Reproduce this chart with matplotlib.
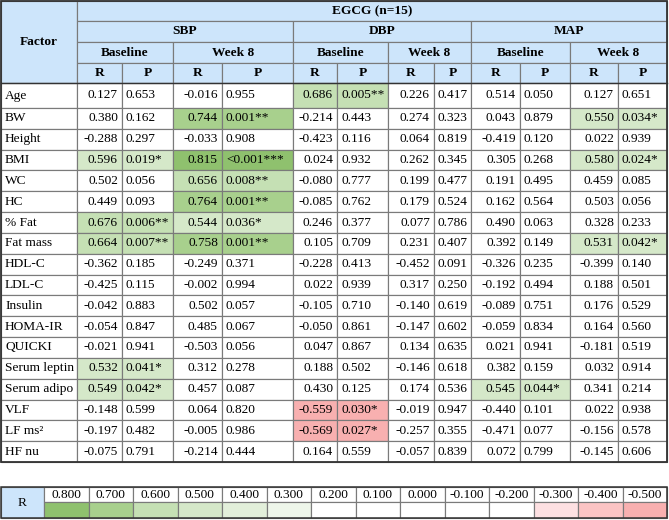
import matplotlib
matplotlib.use("Agg")
import matplotlib.pyplot as plt
from matplotlib.patches import Rectangle

plt.rcParams['font.family'] = ['Liberation Serif', 'DejaVu Serif']

factors = ["Age", "BW", "Height", "BMI", "WC", "HC", "% Fat", "Fat mass", "HDL-C", "LDL-C",
           "Insulin", "HOMA-IR", "QUICKI", "Serum leptin", "Serum adipo", "VLF", "LF ms²", "HF nu"]

sbp_base_r = [0.127, 0.380, -0.288, 0.596, 0.502, 0.449, 0.676, 0.664, -0.362, -0.425,
              -0.042, -0.054, -0.021, 0.532, 0.549, -0.148, -0.197, -0.075]
sbp_base_p = ["0.653", "0.162", "0.297", "0.019*", "0.056", "0.093", "0.006**", "0.007**", "0.185", "0.115",
              "0.883", "0.847", "0.941", "0.041*", "0.042*", "0.599", "0.482", "0.791"]
sbp_w8_r = [-0.016, 0.744, -0.033, 0.815, 0.656, 0.764, 0.544, 0.758, -0.249, -0.002,
            0.502, 0.485, -0.503, 0.312, 0.457, 0.064, -0.005, -0.214]
sbp_w8_p = ["0.955", "0.001**", "0.908", "<0.001***", "0.008**", "0.001**", "0.036*", "0.001**", "0.371", "0.994",
            "0.057", "0.067", "0.056", "0.278", "0.087", "0.820", "0.986", "0.444"]
dbp_base_r = [0.686, -0.214, -0.423, 0.024, -0.080, -0.085, 0.246, 0.105, -0.228, 0.022,
              -0.105, -0.050, 0.047, 0.188, 0.430, -0.559, -0.569, 0.164]
dbp_base_p = ["0.005**", "0.443", "0.116", "0.932", "0.777", "0.762", "0.377", "0.709", "0.413", "0.939",
              "0.710", "0.861", "0.867", "0.502", "0.125", "0.030*", "0.027*", "0.559"]
dbp_w8_r = [0.226, 0.274, 0.064, 0.262, 0.199, 0.179, 0.077, 0.231, -0.452, 0.317,
            -0.140, -0.147, 0.134, -0.146, 0.174, -0.019, -0.257, -0.057]
dbp_w8_p = ["0.417", "0.323", "0.819", "0.345", "0.477", "0.524", "0.786", "0.407", "0.091", "0.250",
            "0.619", "0.602", "0.635", "0.618", "0.536", "0.947", "0.355", "0.839"]
map_base_r = [0.514, 0.043, -0.419, 0.305, 0.191, 0.162, 0.490, 0.392, -0.326, -0.192,
              -0.089, -0.059, 0.021, 0.382, 0.545, -0.440, -0.471, 0.072]
map_base_p = ["0.050", "0.879", "0.120", "0.268", "0.495", "0.564", "0.063", "0.149", "0.235", "0.494",
              "0.751", "0.834", "0.941", "0.159", "0.044*", "0.101", "0.077", "0.799"]
map_w8_r = [0.127, 0.550, 0.022, 0.580, 0.459, 0.503, 0.328, 0.531, -0.399, 0.188,
            0.176, 0.164, -0.181, 0.032, 0.341, 0.022, -0.156, -0.145]
map_w8_p = ["0.651", "0.034*", "0.939", "0.024*", "0.085", "0.056", "0.233", "0.042*", "0.140", "0.501",
            "0.529", "0.560", "0.519", "0.914", "0.214", "0.938", "0.578", "0.606"]

title = "EGCG (n=15)"
outcomes = ["SBP", "DBP", "MAP"]
times = ["Baseline", "Week 8"]
legend_values = [0.8, 0.7, 0.6, 0.5, 0.4, 0.3, 0.2, 0.1, 0.0, -0.1, -0.2, -0.3, -0.4, -0.5]

# colours per bin
pos_colors = {0.8: '#8fc16e', 0.7: '#a8d08d', 0.6: '#c5e0b4', 0.5: '#d5e8c9', 0.4: '#e2efda', 0.3: '#eef6ea'}
neg_colors = {-0.3: '#fde0e2', -0.4: '#fbc4c4', -0.5: '#f8b0b0'}
HEADER = '#cde5fb'
GRID = '#7a7a7a'
BORDER = '#333333'

def legend_color(v):
    if v in pos_colors:
        return pos_colors[v]
    if v in neg_colors:
        return neg_colors[v]
    return 'white'

def bin_color(r):
    if r >= 0.3:
        for t in [0.8, 0.7, 0.6, 0.5, 0.4, 0.3]:
            if r >= t:
                return pos_colors[t]
    if r <= -0.3:
        for t in [-0.5, -0.4, -0.3]:
            if r <= t:
                return neg_colors[t]
    return 'white'

pairs = [(sbp_base_r, sbp_base_p), (sbp_w8_r, sbp_w8_p), (dbp_base_r, dbp_base_p),
         (dbp_w8_r, dbp_w8_p), (map_base_r, map_base_p), (map_w8_r, map_w8_p)]

# layout (pixels)
col_x = [1, 77, 122, 173, 222, 293, 337, 388, 434, 471, 520, 570, 618, 667]
head_y = [1, 21, 42, 63, 83]
row_h = (462 - 108) / 17.0
row_y = [83, 108] + [108 + row_h * (i + 1) for i in range(17)]

fig = plt.figure(figsize=(6.69, 5.20), dpi=100)
ax = fig.add_axes([0, 0, 1, 1])
ax.set_xlim(0, 669)
ax.set_ylim(520, 0)
ax.axis('off')

FS = 9.6
LW = 0.85

def cell(x0, y0, x1, y1, fc='white', ec=GRID, lw=LW):
    ax.add_patch(Rectangle((x0, y0), x1 - x0, y1 - y0, facecolor=fc, edgecolor=ec, lw=lw))

def txt(x, y, s, ha='center', bold=False):
    ax.text(x, y, s, ha=ha, va='center', fontsize=FS, fontweight='bold' if bold else 'normal', color='black')

# header
cell(col_x[0], head_y[0], col_x[1], head_y[4], HEADER)
txt((col_x[0] + col_x[1]) / 2, (head_y[0] + head_y[4]) / 2, "Factor", bold=True)
cell(col_x[1], head_y[0], col_x[13], head_y[1], HEADER)
txt((col_x[1] + col_x[13]) / 2, (head_y[0] + head_y[1]) / 2, title, bold=True)
for k, name in enumerate(outcomes):
    a, b = col_x[1 + 4 * k], col_x[5 + 4 * k]
    cell(a, head_y[1], b, head_y[2], HEADER)
    txt((a + b) / 2, (head_y[1] + head_y[2]) / 2, name, bold=True)
    for j, t in enumerate(times):
        a2, b2 = col_x[1 + 4 * k + 2 * j], col_x[3 + 4 * k + 2 * j]
        cell(a2, head_y[2], b2, head_y[3], HEADER)
        txt((a2 + b2) / 2, (head_y[2] + head_y[3]) / 2, t, bold=True)
for c in range(12):
    a, b = col_x[1 + c], col_x[2 + c]
    cell(a, head_y[3], b, head_y[4], HEADER)
    txt((a + b) / 2, (head_y[3] + head_y[4]) / 2, "R" if c % 2 == 0 else "P", bold=True)

# body
for i, f in enumerate(factors):
    y0, y1 = row_y[i], row_y[i + 1]
    yc = (y0 + y1) / 2
    cell(col_x[0], y0, col_x[1], y1)
    txt(col_x[0] + 4, yc, f, ha='left')
    for g, (rs, ps) in enumerate(pairs):
        r, p = rs[i], ps[i]
        fc = bin_color(r) if '*' in p else 'white'
        xa, xb, xc = col_x[1 + 2 * g], col_x[2 + 2 * g], col_x[3 + 2 * g]
        cell(xa, y0, xb, y1, fc)
        cell(xb, y0, xc, y1, fc)
        txt(xb - 4, yc, f"{r:.3f}", ha='right')
        txt(xb + 4, yc, p, ha='left')

# outer borders and separators
ax.add_patch(Rectangle((col_x[0], head_y[0]), col_x[13] - col_x[0], row_y[-1] - head_y[0],
                       facecolor='none', edgecolor=BORDER, lw=1.3))
ax.plot([col_x[0], col_x[13]], [head_y[4], head_y[4]], color=BORDER, lw=1.0)

# legend
ly0, ly1, ly2 = 487, 502, 518
lx0, lx1 = 1, 44
lw_cell = (667 - lx1) / len(legend_values)
cell(lx0, ly0, lx1, ly2, HEADER)
txt((lx0 + lx1) / 2, (ly0 + ly2) / 2, "R")
for k, v in enumerate(legend_values):
    a = lx1 + k * lw_cell
    b = a + lw_cell
    cell(a, ly0, b, ly1, 'white')
    txt((a + b) / 2, (ly0 + ly1) / 2, f"{v:.3f}")
    cell(a, ly1, b, ly2, legend_color(v))
ax.add_patch(Rectangle((lx0, ly0), 667 - lx0, ly2 - ly0, facecolor='none', edgecolor=BORDER, lw=1.1))

fig.savefig("out.png", dpi=100)
